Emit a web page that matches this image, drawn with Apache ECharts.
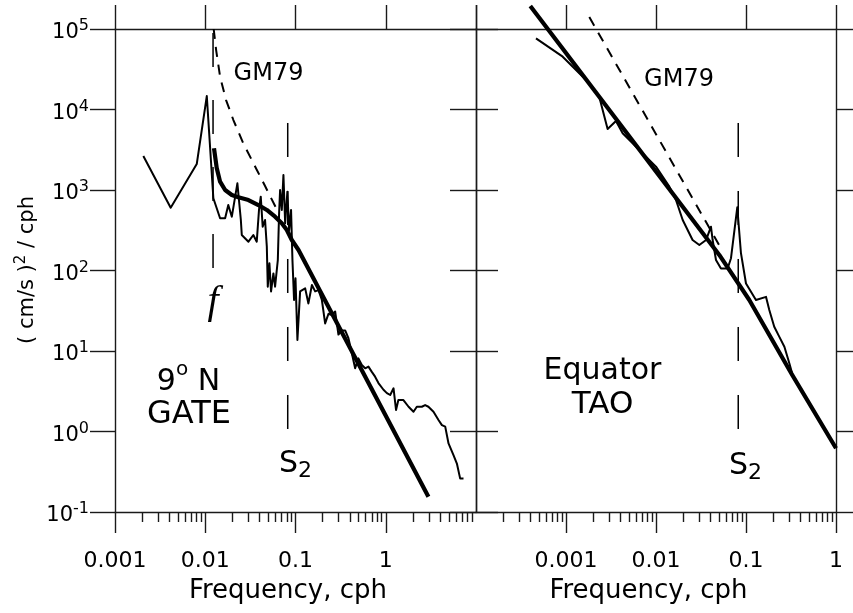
<!DOCTYPE html>
<html><head><meta charset="utf-8">
<script src="https://cdn.jsdelivr.net/npm/echarts@6/dist/echarts.min.js"></script>
<style>html,body{margin:0;padding:0;background:#fff}#c{width:853px;height:613px}</style>
</head><body><div id="c"></div>
<script>
// ---------- data (frequency in cph, spectral density in (cm/s)^2/cph) ----------
const xTickValues = [0.001, 0.01, 0.1, 1];
const xTickLabels = ['0.001', '0.01', '0.1', '1'];
const topTicksLeft = [0.001, 0.01, 0.1, 1, 10];
const topTicksRight = [0.0001, 0.001, 0.01, 0.1, 1];
const yTickValues = [0.1, 1, 10, 100, 1000, 10000, 100000];

// 9N GATE observed spectrum
const gateObs = [
 [0.00206, 2640], [0.00414, 603], [0.00805, 2100], [0.0104, 14700], [0.0123, 790],
 [0.0146, 445], [0.0166, 445], [0.0180, 651], [0.0197, 466], [0.0227, 1210],
 [0.0248, 424], [0.0254, 276], [0.0301, 228], [0.0341, 276], [0.0372, 228],
 [0.0394, 565], [0.0412, 826], [0.0433, 350], [0.0460, 424], [0.0481, 198],
 [0.0493, 63], [0.0514, 123], [0.0536, 55], [0.0569, 92], [0.0594, 63],
 [0.0637, 135], [0.0658, 514], [0.0675, 1000], [0.0705, 565], [0.0735, 1535],
 [0.0768, 386], [0.0813, 953], [0.0849, 318], [0.0893, 565], [0.0925, 135],
 [0.0964, 43], [0.100, 80], [0.105, 13.7], [0.1125, 55], [0.128, 60],
 [0.139, 39], [0.152, 66], [0.165, 55], [0.180, 57], [0.196, 43],
 [0.213, 22], [0.232, 29], [0.252, 28], [0.275, 31], [0.299, 16],
 [0.326, 18], [0.355, 18], [0.386, 14.4], [0.421, 9.4], [0.458, 6.1],
 [0.498, 8.1], [0.543, 6.7], [0.592, 6.1], [0.643, 6.4], [0.701, 5.5],
 [0.762, 4.8], [0.830, 4.0], [0.944, 3.3], [1.03, 3.0], [1.12, 2.84],
 [1.22, 3.44], [1.30, 1.85], [1.38, 2.46], [1.57, 2.46], [1.79, 2.03],
 [2.03, 1.76], [2.21, 2.03], [2.51, 2.03], [2.73, 2.13], [2.97, 2.03],
 [3.38, 1.76], [3.84, 1.39], [4.19, 1.20], [4.56, 1.15], [4.96, 0.71],
 [5.63, 0.51], [6.14, 0.40], [6.68, 0.26], [7.27, 0.26]
];
// 9N GATE model (thick)
const gateModel = [
 [0.0125, 3300], [0.0134, 1880], [0.0146, 1270], [0.0166, 1000], [0.0197, 867],
 [0.0233, 811], [0.0301, 751], [0.0388, 651], [0.0481, 565], [0.0594, 466],
 [0.0705, 386], [0.0802, 318], [0.091, 239], [0.108, 180], [2.97, 0.155]
];
// GM79 at 9N (dashed)
const gateGM79 = [
 [0.0124, 100000], [0.0132, 54800], [0.0146, 25600], [0.0170, 13100], [0.0205, 7400],
 [0.0264, 3800], [0.0372, 1785], [0.046, 1120], [0.0625, 565]
];
// Equator TAO observed spectrum
const taoObs = [
 [0.000464, 76600], [0.000919, 45300], [0.00167, 23300], [0.00234, 14400], [0.0029, 5730],
 [0.00359, 7200], [0.00426, 5060], [0.0055, 3800], [0.00774, 2590], [0.0100, 1950],
 [0.01406, 1100], [0.01667, 751], [0.0198, 424], [0.0255, 239], [0.0303, 207],
 [0.036, 239], [0.0408, 350], [0.0426, 239], [0.0464, 135], [0.0527, 106],
 [0.0625, 106], [0.0681, 142], [0.080, 610], [0.0879, 164], [0.100, 69],
 [0.129, 43], [0.167, 47], [0.1815, 32.3], [0.206, 20], [0.234, 15.1],
 [0.267, 11.3], [0.303, 7.03], [0.3266, 5.2]
];
// Equator TAO model (thick)
const taoModel = [
 [0.000401, 193000], [0.00234, 14400], [0.01517, 918], [0.0505, 156],
 [0.1088, 43], [0.3266, 5.03], [1.0, 0.62]
];
// GM79 at equator (dashed)
const taoGM79 = [[0.001815, 141000], [0.0527, 189]];
// reference frequencies
const fGate = 0.0122;   // inertial frequency at 9N
const fS2 = 0.082;      // S2 tide
const fLine = [[fGate, 89000], [fGate, 100]];
const s2Line = [[fS2, 6800], [fS2, 1]];

// ---------- chart ----------
const FONT = 'DejaVu Sans';
const AX = '#1a1a1a';
const AXW = 1.4;

function minorTicks(lo, hi) {
  const out = [];
  for (let e = lo; e < hi; e++) for (let m = 2; m <= 9; m++) out.push(+(m * Math.pow(10, e)).toPrecision(3));
  return out;
}
function xLabel(v) {
  const i = xTickValues.findIndex(t => Math.abs(Math.log10(t) - Math.log10(v)) < 1e-6);
  return i >= 0 ? xTickLabels[i] : '';
}
const lineSty = {color: AX, width: AXW};
function xMain(grid, min, max) {
  return {type: 'log', logBase: 10, gridIndex: grid, min, max, position: 'bottom',
    axisLine: {show: true, onZero: false, lineStyle: lineSty},
    axisTick: {show: true, inside: false, length: 21, customValues: xTickValues, lineStyle: lineSty},
    axisLabel: {show: true, customValues: xTickValues, margin: 38, fontFamily: FONT, fontSize: 22, color: '#000', formatter: xLabel},
    splitLine: {show: false}, minorTick: {show: false}};
}
function xMinor(grid, min, max, vals) {
  return {type: 'log', logBase: 10, gridIndex: grid, min, max, position: 'bottom',
    axisLine: {show: false}, axisLabel: {show: false}, splitLine: {show: false},
    axisTick: {show: true, inside: false, length: 10, customValues: vals, lineStyle: lineSty}};
}
function xTop(grid, min, max, vals) {
  return {type: 'log', logBase: 10, gridIndex: grid, min, max, position: 'top',
    axisLine: {show: true, onZero: false, lineStyle: lineSty}, axisLabel: {show: false}, splitLine: {show: false},
    axisTick: {show: true, inside: false, length: 24, customValues: vals, lineStyle: lineSty}};
}
function yAx(grid, pos, inside, len, labels) {
  return {type: 'log', logBase: 10, gridIndex: grid, min: 0.1, max: 100000, position: pos,
    axisLine: {show: true, onZero: false, lineStyle: lineSty},
    axisTick: {show: true, inside, length: len, customValues: yTickValues, lineStyle: lineSty},
    splitLine: {show: false},
    axisLabel: labels ? {show: true, customValues: yTickValues, margin: 26, color: '#000',
      formatter: v => '{b|10}{s|' + Math.round(Math.log10(v)) + '}',
      rich: {b: {fontFamily: FONT, fontSize: 21, color: '#000', padding: [8, 0, 0, 0]},
             s: {fontFamily: FONT, fontSize: 16, color: '#000', padding: [0, 0, 6, 0]}}} : {show: false}};
}
function line(xi, yi, data, width, type, z) {
  return {type: 'line', xAxisIndex: xi, yAxisIndex: yi, data, symbol: 'none', showSymbol: false,
    clip: false, silent: true, z: z || 2,
    lineStyle: {color: '#000', width, type: type || 'solid', cap: 'butt', join: 'round'}};
}

const txt = (x, y, text, size, extra) => ({type: 'text', x, y, silent: true,
  style: Object.assign({text, fontFamily: FONT, fontSize: size, fill: '#000', align: 'center', verticalAlign: 'middle'}, extra || {})});

const option = {
  animation: false,
  backgroundColor: '#fff',
  grid: [
    {left: 115, top: 29, width: 361, height: 483, containLabel: false, outerBoundsMode: 'none'},
    {left: 476, top: 29, width: 360, height: 483, containLabel: false, outerBoundsMode: 'none'}
  ],
  xAxis: [
    xMain(0, 0.001, 10), xMinor(0, 0.001, 10, minorTicks(-3, 1)), xTop(0, 0.001, 10, topTicksLeft),
    xMain(1, 0.0001, 1), xMinor(1, 0.0001, 1, minorTicks(-4, 0)), xTop(1, 0.0001, 1, topTicksRight)
  ],
  yAxis: [
    yAx(0, 'left', false, 25, true), yAx(0, 'right', true, 26, false),
    yAx(1, 'left', true, 22, false), yAx(1, 'right', false, 17, false)
  ],
  series: [
    line(0, 0, fLine, 1.5, [34, 33]),
    line(0, 0, s2Line, 1.5, [34, 34]),
    line(0, 0, gateGM79, 2, [10, 8]),
    line(0, 0, gateObs, 2, 'solid', 3),
    line(0, 0, gateModel, 4.2, 'solid', 4),
    line(3, 2, s2Line, 1.5, [34, 34]),
    line(3, 2, taoGM79, 2, [10, 8]),
    line(3, 2, taoObs, 2, 'solid', 3),
    line(3, 2, taoModel, 4.2, 'solid', 4)
  ],
  graphic: [
    txt(268.5, 74, 'GM79', 24),
    txt(679, 80, 'GM79', 24),
    txt(188.5, 382, '{n|9}{s|o}{n| N}', 30, {rich: {n: {fontFamily: FONT, fontSize: 30}, s: {fontFamily: FONT, fontSize: 20, padding: [0, 0, 24, 0]}}}),
    txt(189, 415, 'GATE', 32),
    txt(602.5, 371, 'Equator', 30),
    txt(602.5, 405, 'TAO', 31),
    txt(295.5, 464, '{a|S}{b|2}', 30, {rich: {a: {fontFamily: FONT, fontSize: 30}, b: {fontFamily: FONT, fontSize: 22, padding: [14, 0, 0, 0]}}}),
    txt(745.5, 466, '{a|S}{b|2}', 30, {rich: {a: {fontFamily: FONT, fontSize: 30}, b: {fontFamily: FONT, fontSize: 22, padding: [14, 0, 0, 0]}}}),
    txt(213, 302, 'f', 40, {fontFamily: 'Liberation Serif', fontStyle: 'italic'}),
    txt(288, 591, 'Frequency, cph', 26),
    txt(648.5, 591, 'Frequency, cph', 26),
    {type: 'text', x: 28, y: 270, rotation: Math.PI / 2, silent: true,
     style: {text: '( cm/s ){s|2} / cph', fontFamily: FONT, fontSize: 21, fill: '#000', align: 'center', verticalAlign: 'middle',
       rich: {s: {fontFamily: FONT, fontSize: 15, padding: [0, 0, 14, 0]}}}}
  ]
};
const chart = echarts.init(document.getElementById('c'), null, {renderer: 'canvas'});
chart.setOption(option);
</script></body></html>
